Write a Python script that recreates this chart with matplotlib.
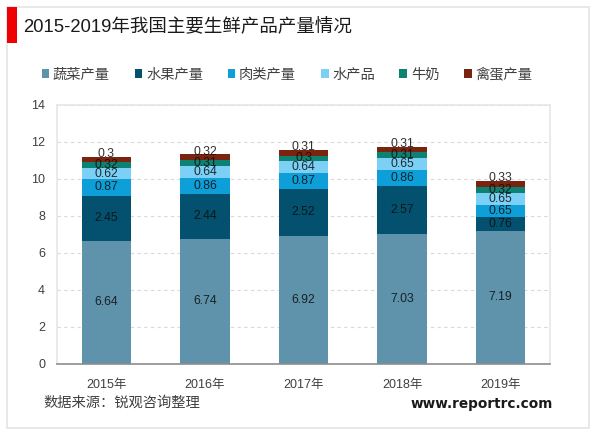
import matplotlib
matplotlib.use("Agg")
import matplotlib.pyplot as plt
from matplotlib.patches import Rectangle

plt.rcParams['font.family'] = ['Liberation Sans', 'Noto Sans CJK SC', 'DejaVu Sans']

years = ['2015年', '2016年', '2017年', '2018年', '2019年']
vegetables = [6.64, 6.74, 6.92, 7.03, 7.19]
fruit = [2.45, 2.44, 2.52, 2.57, 0.76]
meat = [0.87, 0.86, 0.87, 0.86, 0.65]
aquatic = [0.62, 0.64, 0.64, 0.65, 0.65]
milk = [0.32, 0.31, 0.3, 0.31, 0.32]
eggs = [0.3, 0.32, 0.31, 0.31, 0.33]
series_names = ['蔬菜产量', '水果产量', '肉类产量', '水产品', '牛奶', '禽蛋产量']
series_values = [vegetables, fruit, meat, aquatic, milk, eggs]
series_colors = ['#5F93AB', '#04506F', '#0F9FD8', '#7DD0F5', '#0E8272', '#7A2410']
yticks = [0, 2, 4, 6, 8, 10, 12, 14]

W, H = 600, 433
fig = plt.figure(figsize=(W / 100, H / 100), dpi=100, facecolor='white')


def fx(px):
    return px / W


def fy(py):
    return 1 - py / H


# outer frame and red accent
fig.add_artist(Rectangle((fx(7), fy(428)), fx(582), 421 / H, transform=fig.transFigure,
                         fill=False, ec='#E6E6E6', lw=1.3))
fig.add_artist(Rectangle((fx(7), fy(43)), fx(9.5), 36 / H, transform=fig.transFigure,
                         fc='#F00000', ec='none'))

ax = fig.add_axes([fx(57), fy(363.7), fx(493), (363.7 - 104.7) / H])
ax.set_ylim(0, 14)
ax.set_xlim(-0.5, 4.5)
ax.set_axisbelow(True)
ax.yaxis.grid(True, color='#D9D9D9', lw=0.8, ls=(0, (3, 3)))
ax.set_yticks(yticks)
ax.set_xticks(range(len(years)))
ax.set_xticklabels(years)
ax.tick_params(axis='both', length=0, labelsize=9, labelcolor='#404040')
ax.tick_params(axis='x', pad=11)
ax.tick_params(axis='y', pad=8.6)
for side in ('top', 'left', 'right'):
    ax.spines[side].set_color('#E6E6E6')
    ax.spines[side].set_linewidth(1.2)
ax.spines['bottom'].set_color('#8C8C8C')
ax.spines['bottom'].set_linewidth(1.2)

bottom = [0.0] * len(years)
handles = []
for idx, (name, vals, col) in enumerate(zip(series_names, series_values, series_colors)):
    bars = ax.bar(range(len(years)), vals, width=0.5, bottom=bottom, color=col, label=name)
    handles.append(bars)
    last = idx == len(series_names) - 1
    for i, v in enumerate(vals):
        ax.annotate(f'{v:g}', (i, bottom[i] + v / 2), xytext=(0, 3.8 if last else 0),
                    textcoords='offset points', ha='center', va='center',
                    fontsize=8.8, color='#0D0D0D', alpha=0.85)
    bottom = [b + v for b, v in zip(bottom, vals)]

fig.legend(handles=handles, loc='center left', bbox_to_anchor=(fx(41.5), fy(74.5)),
           ncol=6, frameon=False, fontsize=10.3, labelcolor='#404040',
           handlelength=0.55, handleheight=0.55, handletextpad=0.25,
           columnspacing=1.72, borderpad=0, borderaxespad=0)

fig.text(fx(23), fy(27.5), '2015-2019年我国主要生鲜产品产量情况', fontsize=13.3,
         color='#1A1A1A', va='center', ha='left')
fig.text(fx(43), fy(403), '数据来源：锐观咨询整理', fontsize=10.3,
         color='#404040', va='center', ha='left')
fig.text(fx(553), fy(404), 'www.reportrc.com', fontsize=9.8, fontweight='bold',
         family=['DejaVu Sans'], color='#1A1A1A', va='center', ha='right')

fig.savefig('out.png', dpi=100)
